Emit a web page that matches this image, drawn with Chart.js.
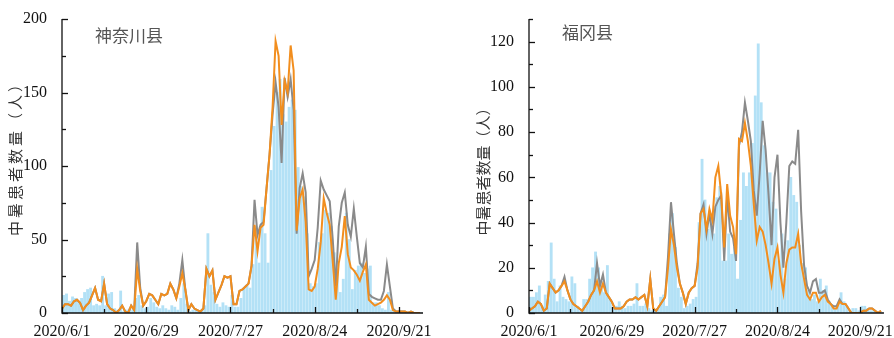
<!DOCTYPE html>
<html><head><meta charset="utf-8">
<script src="https://cdn.jsdelivr.net/npm/chart.js@4.4.1/dist/chart.umd.min.js"></script>
<style>
html,body{margin:0;padding:0;background:#fff;}
#wrap{position:relative;width:894px;height:338px;overflow:hidden;background:#fff;}
canvas{position:absolute;top:0;}
</style></head><body>
<div id="wrap"><canvas id="c1" width="447" height="338" style="left:0"></canvas><canvas id="c2" width="447" height="338" style="left:447px"></canvas></div>
<script>
// x tick labels (day index from 2020/6/1)
const tickDays = [0, 28, 56, 84, 112];
const tickLabels = ['2020/6/1', '2020/6/29', '2020/7/27', '2020/8/24', '2020/9/21'];
const yTitle = '中暑患者数量（人）';

// 神奈川县 (2020/6/1 .. 2020/9/28, daily)
const kanagawaBars = [
  12,13,8,11,10,8,10,14,16,17,
  5,6,5,25,5,13,14,3,2,15,
  1,2,3,2,10,12,5,3,4,10,
  7,4,3,5,3,2,5,4,2,10,
  20,6,1,2,2,1,2,5,54,19,
  14,6,4,7,5,4,12,4,4,10,
  17,19,17,33,59,34,72,54,34,97,
  127,150,159,135,130,140,145,138,99,86,
  79,54,20,18,20,48,54,70,68,59,
  41,30,14,23,68,50,16,29,32,34,
  27,30,32,7,7,5,3,2,14,2,
  2,1,1,1,0,1,0,0,0,0];
const kanagawaGray = [
  3,6,6,5,8,9,7,2,5,7,
  12,17,9,8,20,6,3,2,0,2,
  5,1,0,5,2,48,17,5,8,13,
  12,9,6,13,12,13,20,16,10,20,
  36,16,2,6,3,2,1,3,30,25,
  29,9,14,19,25,24,25,6,6,15,
  16,18,20,32,77,53,60,62,85,108,
  135,157,140,102,160,147,159,138,54,85,
  95,82,25,30,36,58,90,84,80,76,
  50,18,59,75,82,60,52,71,52,34,
  31,45,13,11,10,9,9,15,33,18,
  3,1,1,1,1,0,1,0,0,0];
const kanagawaOrange = [
  3,6,6,5,8,9,7,2,5,7,
  12,17,9,8,20,6,3,2,0,2,
  5,1,0,5,2,30,15,5,8,13,
  12,9,6,13,12,13,20,16,10,18,
  27,16,2,6,3,2,1,3,30,25,
  29,9,14,19,25,24,25,6,6,15,
  16,18,20,32,60,42,58,60,85,108,
  140,185,175,128,158,150,182,165,56,78,
  84,62,16,15,18,30,48,78,68,60,
  35,9,34,45,66,40,31,29,26,22,
  28,33,9,7,5,6,7,9,12,9,
  2,1,1,1,1,0,1,0,0,0];

// 福冈县
const fukuokaBars = [
  7,7,9,12,3,8,14,31,15,5,
  12,7,6,5,16,13,3,1,6,6,
  15,20,27,20,14,9,21,6,2,3,
  5,3,2,3,3,4,13,3,3,4,
  2,1,1,2,7,8,3,35,44,29,
  11,7,2,3,4,6,7,40,68,50,
  37,44,35,51,56,23,23,35,26,29,
  15,41,62,56,62,75,96,119,93,74,
  62,62,49,46,23,35,15,32,60,52,
  49,30,22,20,10,6,8,5,15,10,
  12,5,3,2,4,9,5,3,1,2,
  2,1,3,3,2,1,1,0,0,0];
const fukuokaGray = [
  1,2,3,5,4,1,2,13,11,9,
  10,12,16,10,6,4,3,2,1,3,
  5,8,10,22,12,17,9,7,5,2,
  2,2,3,5,6,6,7,6,7,8,
  3,15,2,1,3,5,7,25,49,35,
  22,13,9,4,9,11,12,22,44,48,
  35,44,35,47,50,52,23,52,36,33,
  23,74,80,93,85,76,54,43,62,85,
  72,52,30,60,70,40,20,40,65,67,
  66,81,45,21,12,9,14,15,9,9,
  10,6,4,3,3,6,4,4,2,0,
  0,0,0,1,1,2,2,1,0,1];
const fukuokaOrange = [
  1,2,3,5,4,1,2,13,11,9,
  10,12,14,10,6,4,3,2,1,3,
  5,8,10,14,9,13,9,7,5,2,
  2,2,3,5,6,6,7,6,7,8,
  3,15,2,1,3,5,7,20,37,30,
  20,13,9,4,9,11,12,20,44,46,
  37,46,41,60,65,52,29,57,43,38,
  26,77,76,84,76,65,48,32,38,36,
  30,22,13,24,29,17,9,22,28,29,
  29,35,22,15,8,6,9,9,5,7,
  8,5,4,2,2,5,4,4,2,0,
  0,0,0,1,1,2,2,1,0,1];

const decor = {
  id: 'decor',
  afterDraw(chart, args, o) {
    const ctx = chart.ctx, a = chart.chartArea, xs = chart.scales.x, ys = chart.scales.y;
    ctx.save();
    ctx.strokeStyle = '#111';
    ctx.lineWidth = 1.3;
    ctx.beginPath();
    ctx.moveTo(a.left, a.top); ctx.lineTo(a.left, a.bottom); ctx.lineTo(a.right, a.bottom);
    ctx.stroke();
    ys.ticks.forEach(t => {
      const p = Math.round(ys.getPixelForValue(t.value)) + 0.5;
      const L = t.label ? 6 : 4;
      ctx.beginPath(); ctx.moveTo(a.left, p); ctx.lineTo(a.left + L, p); ctx.stroke();
    });
    xs.ticks.forEach(t => {
      const p = Math.round(xs.getPixelForValue(t.value)) + 0.5;
      const L = t.label ? 6 : 4;
      ctx.beginPath(); ctx.moveTo(p, a.bottom); ctx.lineTo(p, a.bottom - L); ctx.stroke();
    });
    ctx.fillStyle = '#333';
    ctx.font = o.axisFont;
    if (o.spacing) ctx.letterSpacing = o.spacing;
    ctx.textAlign = 'center';
    ctx.textBaseline = 'middle';
    ctx.translate(o.titleX, o.titleY);
    ctx.rotate(-Math.PI / 2);
    ctx.fillText(yTitle, 0, 0);
    ctx.restore();
    ctx.save();
    ctx.fillStyle = '#555';
    ctx.font = o.panelFont;
    ctx.textAlign = 'left';
    ctx.textBaseline = 'middle';
    ctx.fillText(o.panelTitle, o.panelX, o.panelY);
    ctx.restore();
  }
};

function build(id, bars, gray, orange, o) {
  const days = bars.map((_, i) => i);
  return new Chart(document.getElementById(id), {
    type: 'bar',
    data: {
      datasets: [
        { type: 'line', data: days.map(i => ({ x: i, y: orange[i] })), borderColor: '#f28e1e', borderWidth: 2, pointRadius: 0, tension: 0, order: 1 },
        { type: 'line', data: days.map(i => ({ x: i, y: gray[i] })), borderColor: '#8a8a8a', borderWidth: 2, pointRadius: 0, tension: 0, order: 2 },
        { type: 'bar', data: days.map(i => ({ x: i + 0.5, y: bars[i] })), backgroundColor: '#b3e1f6', borderWidth: 0, barThickness: 2.2, order: 3 }
      ]
    },
    options: {
      responsive: false, animation: false, events: [],
      layout: { padding: { top: 19, right: o.padRight, left: 0, bottom: 0 } },
      plugins: { legend: { display: false }, tooltip: { enabled: false }, decor: o },
      scales: {
        x: {
          type: 'linear', min: 0, max: 120, offset: false,
          grid: { display: false }, border: { display: false },
          afterFit(s) { s.height = 25; },
          ticks: {
            stepSize: 14, autoSkip: false, maxRotation: 0, includeBounds: false, padding: 1,
            font: { family: 'Liberation Serif', size: 16 }, color: '#111',
            callback: v => tickDays.includes(v) ? tickLabels[tickDays.indexOf(v)] : ''
          }
        },
        y: {
          min: 0, max: o.yMax,
          grid: { display: false }, border: { display: false },
          afterFit(s) { s.width = o.yWidth; },
          ticks: {
            stepSize: o.yStep, padding: 7, autoSkip: false,
            font: { family: 'Liberation Serif', size: 16 }, color: '#111',
            callback: v => (v % o.yLabelStep === 0 && v <= o.yLabelMax) ? String(v) : ''
          }
        }
      }
    },
    plugins: [decor]
  });
}

build('c1', kanagawaBars, kanagawaGray, kanagawaOrange, {
  yMax: 200, yStep: 25, yLabelStep: 50, yLabelMax: 200, yWidth: 62, padRight: 24,
  axisFont: '15px "Noto Sans CJK SC"', spacing: '3px', titleX: 15, titleY: 155,
  panelTitle: '神奈川县', panelFont: '17px "Noto Sans CJK SC"', panelX: 95, panelY: 36
});
build('c2', fukuokaBars, fukuokaGray, fukuokaOrange, {
  yMax: 130, yStep: 10, yLabelStep: 20, yLabelMax: 120, yWidth: 82, padRight: 4,
  axisFont: '15px "Noto Sans CJK SC"', spacing: '0px', titleX: 36, titleY: 168,
  panelTitle: '福冈县', panelFont: '17px "Noto Sans CJK SC"', panelX: 115, panelY: 33
});
</script>
</body></html>
